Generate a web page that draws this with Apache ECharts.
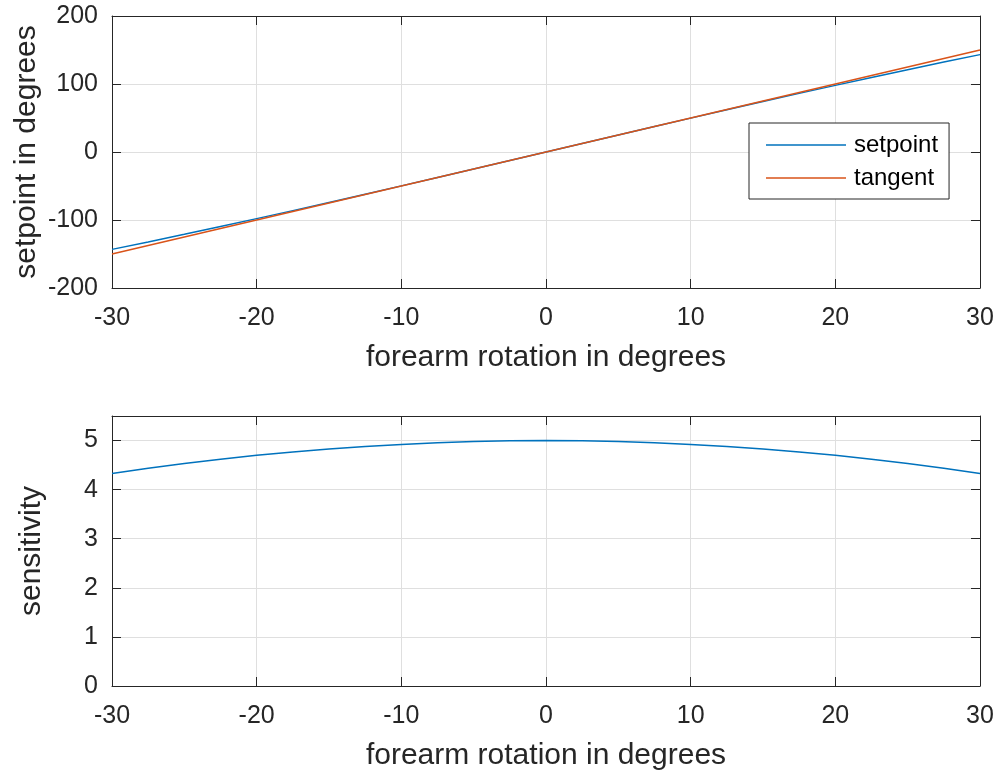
<!DOCTYPE html>
<html>
<head>
<meta charset="utf-8">
<script src="https://cdn.jsdelivr.net/npm/echarts@6/dist/echarts.min.js"></script>
<style>
  html, body { margin: 0; padding: 0; background: #fff; }
  #chart { width: 997px; height: 773px; }
</style>
</head>
<body>
<div id="chart"></div>
<script>
// forearm rotation (degrees)
const rotation = [-30, -27.5, -25, -22.5, -20, -17.5, -15, -12.5, -10, -7.5, -5, -2.5, 0,
                  2.5, 5, 7.5, 10, 12.5, 15, 17.5, 20, 22.5, 25, 27.5, 30];
// setpoint (degrees)
const setpoint = [-143.2, -132.3, -121.1, -109.6, -98.0, -86.2, -74.2, -62.0, -49.8, -37.4, -25.0, -12.5, 0,
                  12.5, 25.0, 37.4, 49.8, 62.0, 74.2, 86.2, 98.0, 109.6, 121.1, 132.3, 143.2];
// tangent line at the origin
const tangentX = [-30, 30];
const tangent = [-150, 150];
// sensitivity
const sensitivity = [4.33, 4.435, 4.53, 4.619, 4.70, 4.769, 4.83, 4.881, 4.92, 4.957, 4.98, 4.995, 5.0,
                     4.995, 4.98, 4.957, 4.92, 4.881, 4.83, 4.769, 4.70, 4.619, 4.53, 4.435, 4.33];

const xTicks = { min: -30, max: 30, interval: 10 };
const ySetTicks = { min: -200, max: 200, interval: 100 };
const ySensTicks = { min: 0, max: 5.5, interval: 1 };

const FONT = 'Liberation Sans, Arial, Helvetica, sans-serif';
const INK = '#262626';
const GRIDC = '#dfdfdf';
const BLUE = '#0072BD';
const ORANGE = '#D95319';

const pairs = (xs, ys) => xs.map((x, i) => [x, ys[i]]);

function mainX(gridIndex, name) {
  return {
    type: 'value', gridIndex, position: 'bottom',
    min: xTicks.min, max: xTicks.max, interval: xTicks.interval,
    name, nameLocation: 'middle', nameGap: 55,
    nameTextStyle: { fontFamily: FONT, fontSize: 30, color: INK },
    axisLine: { show: true, onZero: false, lineStyle: { color: INK, width: 1 } },
    axisTick: { show: true, inside: true, length: 9, lineStyle: { color: INK } },
    axisLabel: { fontFamily: FONT, fontSize: 25, color: INK, margin: 18 },
    splitLine: { show: true, lineStyle: { color: GRIDC, width: 1 } }
  };
}
function boxX(gridIndex) {
  return {
    type: 'value', gridIndex, position: 'top',
    min: xTicks.min, max: xTicks.max, interval: xTicks.interval,
    axisLine: { show: true, onZero: false, lineStyle: { color: INK, width: 1 } },
    axisTick: { show: true, inside: true, length: 9, lineStyle: { color: INK } },
    axisLabel: { show: false },
    splitLine: { show: false }
  };
}
function mainY(gridIndex, name, t, gap, fmt) {
  return {
    type: 'value', gridIndex, position: 'left',
    min: t.min, max: t.max, interval: t.interval,
    name, nameLocation: 'middle', nameGap: gap, nameMoveOverlap: false,
    nameTextStyle: { fontFamily: FONT, fontSize: 30, color: INK },
    axisLine: { show: true, onZero: false, lineStyle: { color: INK, width: 1 } },
    axisTick: { show: true, inside: true, length: 9, lineStyle: { color: INK } },
    axisLabel: { fontFamily: FONT, fontSize: 25, color: INK, margin: 14, formatter: fmt },
    splitLine: { show: true, lineStyle: { color: GRIDC, width: 1 } }
  };
}
function boxY(gridIndex, t) {
  return {
    type: 'value', gridIndex, position: 'right',
    min: t.min, max: t.max, interval: t.interval,
    axisLine: { show: true, onZero: false, lineStyle: { color: INK, width: 1 } },
    axisTick: { show: true, inside: true, length: 9, lineStyle: { color: INK } },
    axisLabel: { show: false },
    splitLine: { show: false }
  };
}

const intOnly = v => (Math.abs(v - Math.round(v)) < 1e-9 ? String(Math.round(v)) : '');

const option = {
  animation: false,
  backgroundColor: '#fff',
  grid: [
    { left: 112, top: 16, width: 868, height: 272 },
    { left: 112, top: 416, width: 868, height: 270 }
  ],
  xAxis: [
    mainX(0, 'forearm rotation in degrees'), boxX(0),
    mainX(1, 'forearm rotation in degrees'), boxX(1)
  ],
  yAxis: [
    mainY(0, 'setpoint in degrees', ySetTicks, 70), boxY(0, ySetTicks),
    mainY(1, 'sensitivity', ySensTicks, 65, intOnly), boxY(1, ySensTicks)
  ],
  legend: {
    data: ['setpoint', 'tangent'],
    orient: 'vertical',
    left: 749, top: 123,
    icon: 'rect', itemWidth: 80, itemHeight: 1.5, itemGap: 9,
    padding: [10, 11, 9, 17],
    borderColor: INK, borderWidth: 1, backgroundColor: '#fff',
    textStyle: { fontFamily: FONT, fontSize: 24, color: '#000', padding: [0, 0, 0, 3], lineHeight: 24 }
  },
  series: [
    {
      name: 'setpoint', type: 'line', xAxisIndex: 0, yAxisIndex: 0,
      data: pairs(rotation, setpoint), showSymbol: false, symbol: 'none',
      lineStyle: { color: BLUE, width: 1.5 }, itemStyle: { color: BLUE }, z: 3
    },
    {
      name: 'tangent', type: 'line', xAxisIndex: 0, yAxisIndex: 0,
      data: pairs(tangentX, tangent), showSymbol: false, symbol: 'none',
      lineStyle: { color: ORANGE, width: 1.5 }, itemStyle: { color: ORANGE }, z: 4
    },
    {
      name: 'sensitivity', type: 'line', xAxisIndex: 2, yAxisIndex: 2,
      data: pairs(rotation, sensitivity), showSymbol: false, symbol: 'none',
      lineStyle: { color: BLUE, width: 1.5 }, itemStyle: { color: BLUE }, z: 3
    }
  ]
};

echarts.init(document.getElementById('chart')).setOption(option);
</script>
</body>
</html>
